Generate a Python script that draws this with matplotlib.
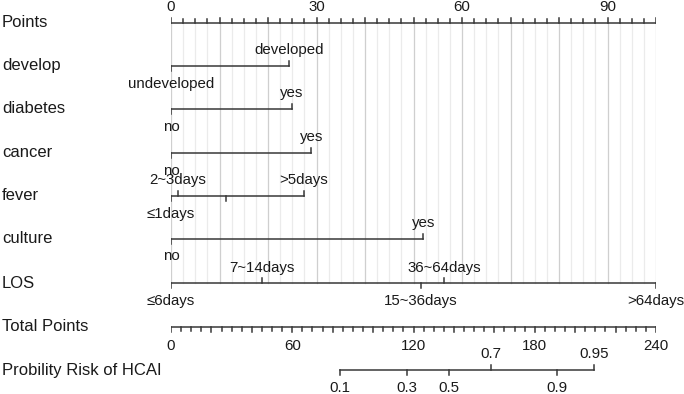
import matplotlib
matplotlib.use("Agg")
import matplotlib.pyplot as plt
from matplotlib.transforms import blended_transform_factory
import numpy as np

plt.rcParams['font.family'] = ['Liberation Sans', 'DejaVu Sans']

# rows of the nomogram, top to bottom
row_names = ["Points", "develop", "diabetes", "cancer", "fever", "culture",
             "LOS", "Total Points", "Probility Risk of HCAI"]

# points scale values
points_labels = [0, 30, 60, 90]
points_max = 100

develop_labels = ["undeveloped", "developed"]
develop_pts = [0, 24.4]
diabetes_labels = ["no", "yes"]
diabetes_pts = [0, 24.9]
cancer_labels = ["no", "yes"]
cancer_pts = [0, 28.9]
fever_labels = ["\u22641days", "2~3days", "", ">5days"]
fever_pts = [0, 1.4, 11.3, 27.4]
culture_labels = ["no", "yes"]
culture_pts = [0, 52.0]
los_labels = ["\u22646days", "7~14days", "15~36days", "36~64days", ">64days"]
los_pts = [0, 18.7, 51.5, 56.3, 100]

total_labels = [0, 60, 120, 180, 240]
total_max = 240
prob_labels = ["0.1", "0.3", "0.5", "0.7", "0.9", "0.95"]
prob_total = [83.6, 116.9, 137.6, 158.2, 191.2, 209.5]

# layout (pixel rows) and label sides
row_y = [22.7, 65.7, 108.7, 152.7, 195.7, 238.5, 283.3, 326.7, 370]
sides = {
    "develop": ["down", "up"],
    "diabetes": ["down", "up"],
    "cancer": ["down", "up"],
    "fever": ["down", "up", "down", "up"],
    "culture": ["down", "up"],
    "LOS": ["down", "up", "down", "up", "down"],
    "prob": ["down", "down", "down", "up", "down", "up"],
}

W, H = 684, 394
line_c = "#383838"
text_c = "#1a1a1a"
lw = 1.1
tick_len = 5
lab_fs = 12
tick_fs = 10.8

fig = plt.figure(figsize=(W / 100, H / 100), dpi=100)
ax = fig.add_axes([171 / W, 0, 485 / W, 1])
ax.set_xlim(0, points_max)
ax.set_ylim(H, 0)
ax.axis("off")

# vertical grid lines from Points axis down to LOS
for v in np.arange(0, points_max + 0.1, 2.5):
    c = "#cfcfcf" if v % 10 == 0 else "#ebebeb"
    ax.plot([v, v], [row_y[0], row_y[6]], color=c, lw=0.9, zorder=0)

# left row labels
trans = blended_transform_factory(fig.transFigure, ax.transData)
for name, y in zip(row_names, row_y):
    ax.text(2 / W, y, name, transform=trans, ha="left", va="center",
            fontsize=lab_fs, color=text_c)

# Points axis
y0 = row_y[0]
ax.plot([0, points_max], [y0, y0], color=line_c, lw=lw)
for v in np.arange(0, points_max + 0.1, 2.5):
    L = 5 if v % 10 == 0 else 3.5
    ax.plot([v, v], [y0, y0 - L], color=line_c, lw=lw)
for v in points_labels:
    ax.text(v, y0 - 15.5, str(v), ha="center", va="center",
            fontsize=tick_fs, color=text_c)


def var_axis(y, pts, labels, side):
    ax.plot([min(pts), max(pts)], [y, y], color=line_c, lw=lw)
    for p, lab, s in zip(pts, labels, side):
        d = -1 if s == "up" else 1
        ax.plot([p, p], [y, y + d * tick_len], color=line_c, lw=lw)
        if lab:
            ty = y - 15.5 if s == "up" else y + 18
            ax.text(p, ty, lab, ha="center", va="center",
                    fontsize=tick_fs, color=text_c)


var_axis(row_y[1], develop_pts, develop_labels, sides["develop"])
var_axis(row_y[2], diabetes_pts, diabetes_labels, sides["diabetes"])
var_axis(row_y[3], cancer_pts, cancer_labels, sides["cancer"])
var_axis(row_y[4], fever_pts, fever_labels, sides["fever"])
var_axis(row_y[5], culture_pts, culture_labels, sides["culture"])
var_axis(row_y[6], los_pts, los_labels, sides["LOS"])

# Total Points axis (rescaled onto 0-100 points)
sc = points_max / total_max
yt = row_y[7]
ax.plot([0, total_max * sc], [yt, yt], color=line_c, lw=lw)
for v in np.arange(0, total_max + 0.1, 5):
    L = 5 if v % 20 == 0 else 4
    ax.plot([v * sc, v * sc], [yt, yt + L], color=line_c, lw=lw)
for v in total_labels:
    ax.text(v * sc, yt + 19, str(v), ha="center", va="center",
            fontsize=tick_fs, color=text_c)

# probability axis
var_axis(row_y[8], [t * sc for t in prob_total], prob_labels, sides["prob"])

fig.savefig("out.png", dpi=100)
